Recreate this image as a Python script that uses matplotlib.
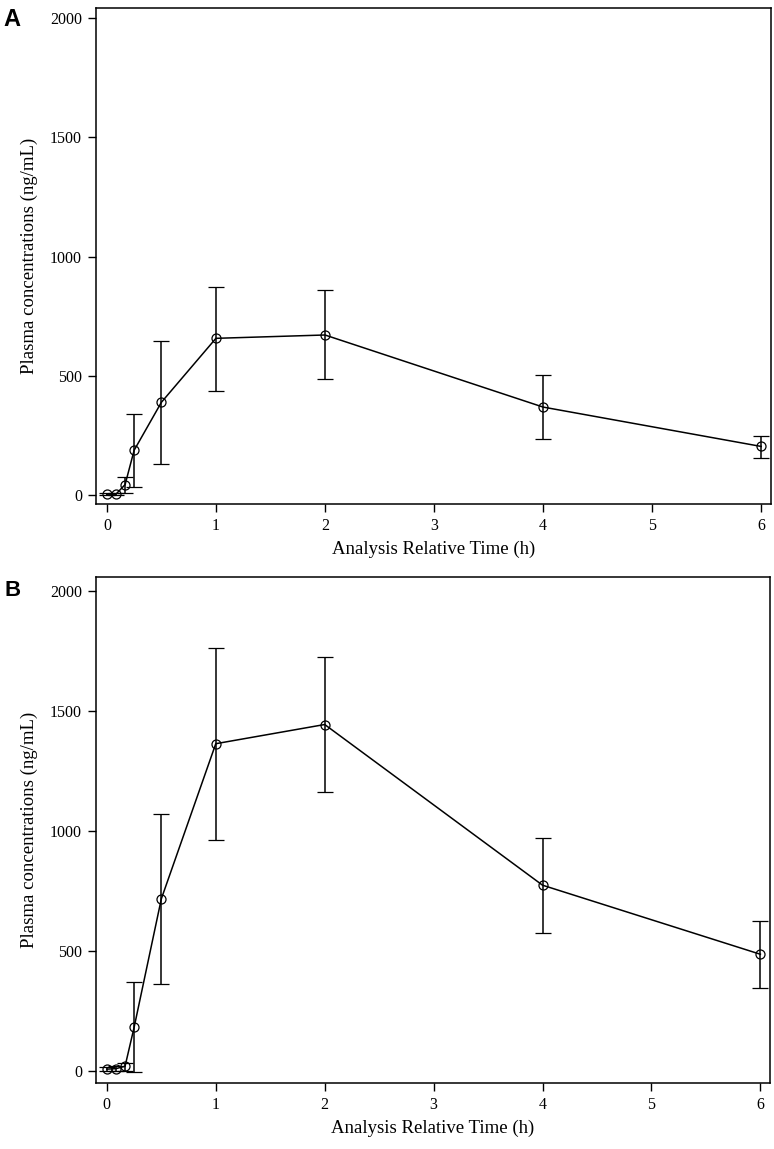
import matplotlib
matplotlib.use('Agg')
import matplotlib.pyplot as plt

# Sampling times (h)
times = [0, 0.083, 0.167, 0.25, 0.5, 1, 2, 4, 6]

# Panel A: mean and error bar limits (ng/mL)
mean_a = [5, 5, 45, 189, 390, 658, 672, 370, 205]
upper_a = [10, 10, 75, 343, 647, 874, 859, 505, 250]
lower_a = [0, 0, 10, 37, 131, 437, 486, 235, 158]

# Panel B
mean_b = [8, 10, 20, 182, 718, 1365, 1445, 775, 487]
upper_b = [16, 20, 35, 373, 1070, 1765, 1725, 972, 627]
lower_b = [0, 0, 2, -5, 365, 962, 1162, 577, 347]

yticks = [0, 500, 1000, 1500, 2000]
xticks = [0, 1, 2, 3, 4, 5, 6]

serif = 'Liberation Serif'

fig = plt.figure(figsize=(7.74, 11.49), dpi=100)
ax_a = fig.add_axes([0.124, 0.5614, 0.8715, 0.4316])
ax_b = fig.add_axes([0.124, 0.0574, 0.8705, 0.4404])


def draw(ax, mean, upper, lower, ylim):
    yerr = [[m - l for m, l in zip(mean, lower)],
            [u - m for m, u in zip(mean, upper)]]
    ax.errorbar(times, mean, yerr=yerr, color='black', lw=1.1,
                elinewidth=1.1, capsize=6, capthick=1.1,
                marker='o', markersize=6.5, markerfacecolor='none',
                markeredgecolor='black', markeredgewidth=0.9)
    ax.set_xlim(-0.1, 6.086)
    ax.set_ylim(*ylim)
    ax.set_xticks(xticks)
    ax.set_yticks(yticks)
    ax.set_xticklabels([str(t) for t in xticks], fontfamily=serif, fontsize=11.5)
    ax.set_yticklabels([str(t) for t in yticks], fontfamily=serif, fontsize=11.5)
    ax.tick_params(direction='out', length=6, width=1, pad=4)
    for s in ax.spines.values():
        s.set_linewidth(1.1)
    ax.set_xlabel('Analysis Relative Time (h)', fontfamily=serif, fontsize=13.5, labelpad=5)
    ax.set_ylabel('Plasma concentrations (ng/mL)', fontfamily=serif, fontsize=13.5, labelpad=9)


draw(ax_a, mean_a, upper_a, lower_a, (-36, 2042))
draw(ax_b, mean_b, upper_b, lower_b, (-50, 2060))

fig.text(0.005, 0.993, 'A', fontfamily='Liberation Sans', fontweight='bold', fontsize=17, va='top')
fig.text(0.006, 0.495, 'B', fontfamily='Liberation Sans', fontweight='bold', fontsize=16, va='top')

fig.savefig('out.png', dpi=100)
